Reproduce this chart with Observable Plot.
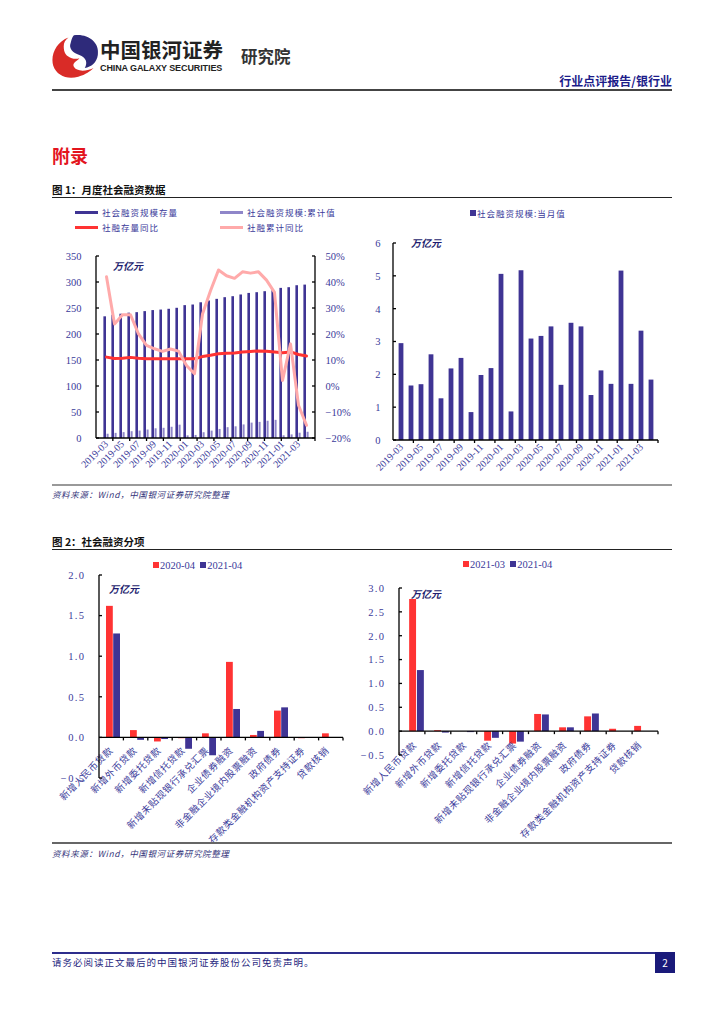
<!DOCTYPE html>
<html><head><meta charset="utf-8">
<script src="https://cdn.jsdelivr.net/npm/d3@7"></script>
<script src="https://cdn.jsdelivr.net/npm/@observablehq/plot@0.6"></script>
<style>
body{margin:0;width:724px;height:1024px;position:relative;background:#fff;overflow:hidden;font-family:"Noto Sans CJK SC",sans-serif}
.a{position:absolute;white-space:nowrap;line-height:1}
.rule{position:absolute;height:0}
.sq{display:inline-block;width:6px;height:6px;margin-right:1px;vertical-align:1px}
.sw{position:absolute;height:3px;width:23px}
.unit{position:absolute;font-size:10px;font-weight:700;color:#1f1f70;line-height:1;font-style:italic}
.src{position:absolute;font-size:8.5px;font-style:italic;color:#34347a;line-height:1;letter-spacing:0.6px}
.ch{position:absolute}
#c3 g[aria-label="y-axis tick label"] text, #c4 g[aria-label="y-axis tick label"] text{letter-spacing:1.4px}
#c3 g[aria-label="text"] text, #c4 g[aria-label="text"] text{letter-spacing:0.6px}
</style></head><body>

<!-- header -->
<svg class="ch" style="left:50px;top:33px" width="50" height="46" viewBox="0 0 46 42">
  <path d="M22 2 C34 0 46 8 44 20 C43 27 38 31 32 32 C35 27 33 22 27 20 C21 18 17 14 19 9 C20 5 21 3 22 2 Z" fill="#2e2a7a"/>
  <path d="M17 4 C6 8 0 20 3 30 C6 39 16 43 26 40 C33 38 37 35 40 32 C32 36 24 35 22 31 C20 27 25 26 27 23 C22 25 14 22 13 16 C12 10 13 7 17 4 Z" fill="#d92b27"/>
</svg>
<div class="a" style="left:100px;top:39px;font-size:20.5px;font-weight:700;color:#222">中国银河证券</div>
<div class="a" style="left:100px;top:64px;font-size:9px;font-weight:700;color:#222;font-family:'Liberation Sans',sans-serif;letter-spacing:-0.1px">CHINA GALAXY SECURITIES</div>
<div class="a" style="left:241px;top:48px;font-size:16.5px;font-weight:700;color:#333">研究院</div>
<div class="a" style="right:52px;top:75px;font-size:12px;font-weight:700;color:#1c1c8a">行业点评报告/银行业</div>
<div class="rule" style="left:52px;width:620px;top:89px;border-top:2px solid #444"></div>

<div class="a" style="left:52px;top:146px;font-size:18px;font-weight:700;color:#e3141d">附录</div>

<!-- figure 1 -->
<div class="a" style="left:52px;top:185px;font-size:10.5px;font-weight:700;color:#111">图 1：月度社会融资数据</div>
<div class="rule" style="left:52px;width:620px;top:197px;border-top:1.2px solid #222"></div>

<div class="sw" style="left:75px;top:211px;background:#3f3494"></div>
<div class="a" style="left:102px;top:208px;font-size:8.5px;color:#3a3a9a;letter-spacing:1px">社会融资规模存量</div>
<div class="sw" style="left:220px;top:211px;background:#8f86c9"></div>
<div class="a" style="left:247px;top:208px;font-size:8.5px;color:#3a3a9a;letter-spacing:1px">社会融资规模:累计值</div>
<div class="sw" style="left:75px;top:226px;background:#ff3333"></div>
<div class="a" style="left:102px;top:223px;font-size:8.5px;color:#3a3a9a;letter-spacing:1px">社融存量同比</div>
<div class="sw" style="left:220px;top:226px;background:#ffaaaa"></div>
<div class="a" style="left:247px;top:223px;font-size:8.5px;color:#3a3a9a;letter-spacing:1px">社融累计同比</div>

<div class="a" style="left:470px;top:209px;font-size:8.5px;color:#3a3a9a;letter-spacing:1px"><span class="sq" style="background:#3f3494"></span>社会融资规模:当月值</div>

<div id="c1" class="ch" style="left:40px;top:245px"></div>
<div id="c2" class="ch" style="left:360px;top:230px"></div>
<div class="unit" style="left:113px;top:261px">万亿元</div>
<div class="unit" style="left:411px;top:238px">万亿元</div>

<div class="rule" style="left:52px;width:620px;top:484px;border-top:2px solid #999"></div>
<div class="src" style="left:52px;top:490px">资料来源：Wind，中国银河证券研究院整理</div>

<!-- figure 2 -->
<div class="a" style="left:52px;top:537px;font-size:10.5px;font-weight:700;color:#111">图 2：社会融资分项</div>
<div class="rule" style="left:52px;width:620px;top:549px;border-top:1.2px solid #222"></div>

<div class="a" style="left:153px;top:561px;font-size:10.5px;color:#3a3a9a;font-family:'Liberation Serif',serif"><span class="sq" style="background:#ff3333"></span>2020-04&nbsp;&nbsp;<span class="sq" style="background:#3f3494"></span>2021-04</div>
<div class="a" style="left:463px;top:560px;font-size:10.5px;color:#3a3a9a;font-family:'Liberation Serif',serif"><span class="sq" style="background:#ff3333"></span>2021-03&nbsp;&nbsp;<span class="sq" style="background:#3f3494"></span>2021-04</div>

<div id="c3" class="ch" style="left:40px;top:565px"></div>
<div id="c4" class="ch" style="left:360px;top:575px"></div>
<div class="unit" style="left:109px;top:584px">万亿元</div>
<div class="unit" style="left:411px;top:589px">万亿元</div>

<div class="rule" style="left:52px;width:620px;top:842px;border-top:2px solid #666"></div>
<div class="src" style="left:52px;top:849px">资料来源：Wind，中国银河证券研究院整理</div>

<!-- footer -->
<div class="rule" style="left:52px;width:604px;top:952px;border-top:2px solid #2d2d8c"></div>
<div class="a" style="left:52px;top:958px;font-size:9.5px;color:#1f1f80;letter-spacing:1px">请务必阅读正文最后的中国银河证券股份公司免责声明。</div>
<div class="a" style="left:655px;top:952px;width:20px;height:21px;background:#1a1a7a;color:#fff;font-size:10px;text-align:center;line-height:21px">2</div>

<script>
// ---------- data ----------
const months = ["2019-03","2019-04","2019-05","2019-06","2019-07","2019-08","2019-09","2019-10","2019-11","2019-12",
  "2020-01","2020-02","2020-03","2020-04","2020-05","2020-06","2020-07","2020-08","2020-09","2020-10","2020-11","2020-12",
  "2021-01","2021-02","2021-03","2021-04"];
const stockValues = [234,237,239,241,242,244,246,247,248.5,250.4,255.5,256.7,261,264.4,267.6,270.8,272.7,276,279,280.4,282.3,284.2,288.7,290,293.8,295];
const cumValues = [8.2,9.9,11.3,13.1,14.3,16.3,18.7,19.6,21.6,25.6,5.1,5.9,11.1,14.2,17.4,20.8,22.5,26.1,29.6,31.0,33.2,34.9,5.2,6.9,10.2,12.0];
const stockYoY = [11.3,10.8,10.9,11.2,10.9,10.7,10.7,10.7,10.7,10.7,10.7,10.7,11.5,12.0,12.6,12.8,12.9,13.3,13.5,13.7,13.6,13.3,13.0,13.3,12.3,11.7];
const cumYoY = [42.2,24.0,27.6,27.6,20.2,15.8,14.5,13.5,14.4,13.6,8.1,4.9,27.9,36.8,44.8,42.6,41.6,44.1,43.6,44.1,40.9,36.2,2.3,16.4,-7.2,-14.9];
const monthlyValues = [2.95,1.66,1.70,2.61,1.27,2.18,2.50,0.85,1.98,2.19,5.06,0.87,5.17,3.09,3.17,3.46,1.68,3.57,3.46,1.37,2.12,1.71,5.16,1.71,3.33,1.84];
const leftTicks1 = [0,50,100,150,200,250,300,350];
const pctTicks = [-20,-10,0,10,20,30,40,50];
const monthlyTicks = [0,1,2,3,4,5,6];

const categories = ["新增人民币贷款","新增外币贷款","新增委托贷款","新增信托贷款","新增未贴现银行承兑汇票","企业债券融资","非金融企业境内股票融资","政府债券","存款类金融机构资产支持证券","贷款核销"];
const apr2020 = [1.62,0.09,-0.05,-0.01,0.05,0.93,0.03,0.33,-0.01,0.05];
const mar2021 = [2.77,0.02,0.00,-0.20,-0.26,0.36,0.08,0.31,0.05,0.11];
const apr2021 = [1.28,-0.03,-0.02,-0.14,-0.22,0.35,0.08,0.37,0.00,0.00];
const ticks3 = [-0.5,0,0.5,1.0,1.5,2.0];
const ticks4 = [-0.5,0,0.5,1.0,1.5,2.0,2.5,3.0];

// ---------- style ----------
const navy = "#3f3494", lilac = "#8f86c9", red = "#ff3333", pink = "#ffaaaa";
const labelColor = "#3a3a9a";
const serif = `"Liberation Serif","Noto Sans CJK SC",serif`;
const cjk = `"Noto Sans CJK SC",sans-serif`;
const baseStyle = {background: "transparent", overflow: "visible", fontFamily: serif, color: labelColor, fontSize: "10.5px"};
const toLeft = p => (p + 20) * 5;
const minus = s => String(s).replace("-", "\u2212");

// axis lines drawn from plot dimensions and scales
function frameLines({left = true, right = false, base = null, yTicks = [], rightTicks = [], n = 0, every = 2, tickLen = 3}) {
  return (index, scales, values, dim) => {
    const {width, height, marginLeft, marginRight, marginTop, marginBottom} = dim;
    const x0 = marginLeft, x1 = width - marginRight, y0 = marginTop, y1 = height - marginBottom;
    const g = d3.create("svg:g").attr("stroke", "#000").attr("stroke-width", 1.3).attr("fill", "none");
    const ln = (a, b, c, d) => g.append("line").attr("x1", a).attr("y1", b).attr("x2", c).attr("y2", d);
    if (left) { ln(x0, y0, x0, y1); yTicks.forEach(v => { const y = scales.y(v); ln(x0, y, x0 + tickLen, y); }); }
    if (right) { ln(x1, y0, x1, y1); rightTicks.forEach(v => { const y = scales.y(v); ln(x1, y, x1 - tickLen, y); }); }
    const yb = base == null ? y1 : scales.y(base);
    ln(x0, yb, x1, yb);
    if (n) for (let i = every; i <= n; i += every) { const x = x0 + (x1 - x0) * i / n; ln(x, yb, x, yb + tickLen); }
    return g.node();
  };
}

// ---------- chart 1 ----------
const d1 = months.map((m, i) => ({m, stock: stockValues[i], cum: cumValues[i], sy: toLeft(stockYoY[i]), cy: toLeft(cumYoY[i])}));
document.getElementById("c1").append(Plot.plot({
  width: 320, height: 250, marginLeft: 56, marginRight: 45, marginTop: 11, marginBottom: 57,
  style: baseStyle,
  x: {type: "band", domain: months, padding: 0},
  y: {domain: [0, 350]},
  marks: [
    Plot.barY(d1, {x: "m", y: "stock", fill: navy, insetLeft: 1.4, insetRight: 4.0}),
    Plot.barY(d1, {x: "m", y: "cum", fill: lilac, insetLeft: 4.6, insetRight: 1.4}),
    Plot.lineY(d1, {x: "m", y: "sy", stroke: red, strokeWidth: 3}),
    Plot.lineY(d1, {x: "m", y: "cy", stroke: pink, strokeWidth: 3}),
    Plot.axisY({ticks: leftTicks1, tickFormat: d3.format("d"), tickSize: 0, tickPadding: 15, label: null}),
    Plot.axisY({anchor: "right", ticks: pctTicks.map(toLeft), tickFormat: d => minus(Math.round(d / 5 - 20)) + "%", tickSize: 0, tickPadding: 10, label: null}),
    Plot.axisX({ticks: months.filter((d, i) => i % 2 === 0), tickRotate: -45, tickSize: 0, tickPadding: 4, fontSize: 10, label: null}),
    frameLines({left: true, right: true, yTicks: leftTicks1, rightTicks: pctTicks.map(toLeft), n: months.length, every: 2})
  ]
}));

// ---------- chart 2 ----------
const d2 = months.map((m, i) => ({m, v: monthlyValues[i]}));
document.getElementById("c2").append(Plot.plot({
  width: 330, height: 260, marginLeft: 33, marginRight: 32, marginTop: 13, marginBottom: 50,
  style: baseStyle,
  x: {type: "band", domain: months, padding: 0},
  y: {domain: [0, 6]},
  marks: [
    Plot.barY(d2, {x: "m", y: "v", fill: navy, insetLeft: 2.6, insetRight: 2.6}),
    Plot.axisY({ticks: monthlyTicks, tickFormat: d3.format("d"), tickSize: 0, tickPadding: 13, label: null}),
    Plot.axisX({ticks: months.filter((d, i) => i % 2 === 0), tickRotate: -45, tickSize: 0, tickPadding: 5, fontSize: 10, label: null}),
    frameLines({left: true, yTicks: monthlyTicks, n: months.length, every: 2})
  ]
}));

// ---------- chart 3 / 4 ----------
function groupChart(el, a, b, domain, ticks, opts) {
  const rows = categories.map((c, i) => ({c, a: a[i], b: b[i]}));
  const bw = (opts.width - opts.marginLeft - opts.marginRight) / categories.length;
  const half = bw / 2, inset = half - opts.barW;
  document.getElementById(el).append(Plot.plot({
    ...opts,
    style: baseStyle,
    x: {type: "band", domain: categories, padding: 0, axis: null},
    y: {domain},
    marks: [
      Plot.barY(rows, {x: "c", y: "a", fill: red, insetLeft: inset, insetRight: half}),
      Plot.barY(rows, {x: "c", y: "b", fill: navy, insetLeft: half, insetRight: inset}),
      Plot.axisY({ticks, tickFormat: d3.format(".1f"), tickSize: 0, tickPadding: 14, label: null}),
      Plot.text(categories, {x: d => d, y: () => 0, rotate: -45, textAnchor: "end", fontSize: 9.5, fontFamily: cjk, fill: labelColor, dx: opts.ldx, dy: opts.ldy}),
      frameLines({left: true, base: 0, yTicks: ticks, n: categories.length, every: 1})
    ]
  }));
}
groupChart("c3", apr2020, apr2021, [-0.5, 2.0], ticks3,
  {width: 320, height: 280, marginLeft: 59, marginRight: 17, marginTop: 10, marginBottom: 67, barW: 7.2, ldx: -2, ldy: 11});
groupChart("c4", mar2021, apr2021, [-0.5, 3.0], ticks4,
  {width: 330, height: 270, marginLeft: 39, marginRight: 32, marginTop: 13, marginBottom: 90, barW: 7.8, ldx: -2, ldy: 12});
</script>
</body></html>
